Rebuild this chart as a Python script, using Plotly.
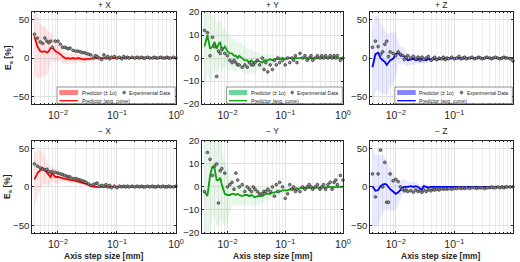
import plotly.graph_objects as go

# ---------------- data ----------------
step_mm = [0.004, 0.0045, 0.005, 0.0055, 0.006, 0.0065, 0.007, 0.0075, 0.008, 0.009,
           0.01, 0.011, 0.012, 0.013, 0.014, 0.015, 0.016, 0.018, 0.02, 0.022,
           0.024, 0.026, 0.028, 0.03, 0.033, 0.036, 0.04, 0.043, 0.046, 0.05,
           0.055, 0.06, 0.065, 0.07, 0.075, 0.08, 0.09, 0.1, 0.11, 0.12,
           0.13, 0.14, 0.15, 0.16, 0.18, 0.2, 0.22, 0.24, 0.26, 0.28,
           0.3, 0.33, 0.36, 0.4, 0.43, 0.46, 0.5, 0.55, 0.6, 0.65,
           0.7, 0.75, 0.8, 0.9, 1.0]

# +X
px_avg = [28, 15, 9, 8, 9, 7, 9, 13, 14, 9,
          7, 5, 2, 0, -1, 0, -1, 0, -1, 0,
          -1, -2, -2, -1, -1, -1, 0, 0, 0.5, 0,
          0.5, 0, 0, 0.5, 0, 0, 0.5, 0, 0, 0,
          0.5, 0, 0, 0, 0, 0.5, 0, 0, 0, 0,
          0, 0, 0, 0, 0, 0, 0, 0, 0, 0,
          0, 0, 0, 0, 0]
px_sig = [50, 42, 35, 33, 32, 30, 25, 20, 18, 14,
          11, 10, 9, 8, 7, 7, 6.5, 6, 6, 5.5,
          5, 5, 4.5, 4, 3.5, 3, 3, 2.5, 2.5, 2,
          2, 2, 1.8, 1.6, 1.5, 1.5, 1.4, 1.3, 1.2, 1.1,
          1, 1, 1, 1, 1, 1, 1, 1, 1, 1,
          1, 1, 1, 1, 1, 1, 1, 1, 1, 1,
          1, 1, 1, 1, 1]
px_exp = [31, 26, 21, 19, 26, 22, 20, 22, 14, 22,
          22, 18, 14, 14, 13, 12, 13, 10, 9, 9,
          8, 7, 7, 6, 5, 4, 0, 3, 2, 0,
          -2, 4, 0, 2, -1, 1, 2, 0, 1, -1,
          2, 0, 1, 0, 1, 0, 1, 0, 1, 0,
          0, 1, 0, 0, 1, 0, 0, 1, 0, 0,
          1, 0, 0, 1, 0]

# +Y
py_avg = [5, 10, 4, 5, 7, 4, 6, 7, 3, 5,
          3, 2, 2, 1, 1, 0, 1, 0, -1, -1,
          -2, -1, -2, -2, -1, -1.5, -2, -1, -1, -1,
          -0.5, -1, -0.5, -0.5, 0, -0.5, 0, -0.5, 0, 0,
          0, 0, 0.3, 0, 0, 0.3, 0, 0.3, 0, 0,
          0.3, 0, 0.3, 0.2, 0, 0.3, 0.2, 0, 0.3, 0.2,
          0.3, 0, 0.3, 0.2, 0]
py_sig = [18, 17, 15, 13, 12, 11, 10, 10, 9, 8.5,
          8, 7.5, 7, 7, 6.5, 6.5, 6, 6, 6, 5.5,
          5.5, 5, 5, 4.5, 4, 3.5, 3.3, 3, 2.8, 2.5,
          2.2, 2, 1.8, 1.6, 1.5, 1.3, 1.2, 1, 1, 0.9,
          0.8, 0.8, 0.8, 0.7, 0.7, 0.7, 0.6, 0.6, 0.6, 0.6,
          0.5, 0.5, 0.5, 0.5, 0.5, 0.5, 0.5, 0.5, 0.5, 0.5,
          0.5, 0.5, 0.5, 0.5, 0.5]
py_exp = [12, 11, 1, 9, 5, -8, 3, 2, 4, 2,
          1, -1, -2, -1, -2, -3, -3, -4, -3, -4,
          -2, -3, -3, -2, -1, -3, 0, -5, -2, -6,
          -3, -5, -1, -3, 0, -2, -1, -3, 0, -2,
          0, -1, 1, -2, 2, 0, 1, -1, 0, 1,
          -1, 0, 1, 0, 1, 0, 1, 0, 1, 0,
          1, 0, 1, -1, 0]

# +Z
pz_avg = [-12, 5, 7, 0, -3, -5, -9, -6, -3, -1,
          5, 7, 3, 4, 2, 0, -3, -2, -1, -3,
          -2, -1, -2, -2, -3, -1, -2, -1, -1, -2,
          -1, -1, -1, -0.5, -1, -0.5, -0.5, -1, -0.5, -0.5,
          0, -0.5, 0, -0.5, 0, 0, 0, 0, 0, 0,
          0, 0, 0, 0, 0, 0, 0, 0, 0, 0,
          0, 0, 0, 0, 0]
pz_sig = [50, 50, 48, 46, 44, 42, 40, 38, 36, 34,
          30, 14, 12, 11, 10, 9, 8, 7.5, 7, 6.5,
          6, 5.5, 5, 5, 4.5, 4, 3.5, 3, 3, 2.5,
          2.5, 2, 2, 2, 1.8, 1.6, 1.5, 1.4, 1.3, 1.2,
          1, 1, 1, 1, 1, 1, 1, 1, 1, 1,
          1, 1, 1, 1, 1, 1, 1, 1, 1, 1,
          1, 1, 1, 1, 1]
pz_exp = [14, 22, 15, 5, 8, 18, 22, 2, 8, 6,
          3, 8, 5, 3, -2, 1, 3, 0, 2, -1,
          1, -3, 1, -2, 0, 2, -3, -1, 1, -2,
          0, -1, 1, -2, 0, -1, 1, -1, 0, 2,
          -1, 0, 1, -1, 0, 1, -1, 0, 1, 0,
          -1, 0, 1, 0, -1, 0, 1, 0, -1, 0,
          1, 0, 0, -1, -4]

# -X
nx_avg = [10, 18, 22, 25, 22, 19, 16, 13, 18, 13,
          13, 12, 11, 11, 10, 10, 9, 9, 8, 7,
          6, 6, 5, 4, 3, 1, 0, 0, 0, 0,
          0.5, 0, 0, 0.5, 0, 0.5, 0, 0.5, 0.5, 0.5,
          0.5, 0.5, 0.5, 0.5, 0.5, 0.5, 0.5, 0.5, 0.5, 0.5,
          0.5, 0.5, 0.5, 0.5, 0.5, 0.5, 0.5, 0.5, 0.5, 0.5,
          0.5, 0.5, 0.5, 0.5, 0.5]
nx_sig = [35, 30, 26, 22, 18, 16, 14, 12, 10, 9,
          8, 6, 5, 4.5, 4, 4, 3.5, 3.5, 3, 3,
          3, 2.5, 2.5, 2, 2, 2, 1.8, 1.5, 1.4, 1.3,
          1.2, 1, 1, 1, 1, 1, 1, 1, 1, 1,
          1, 1, 1, 1, 1, 1, 1, 1, 1, 1,
          1, 1, 1, 1, 1, 1, 1, 1, 1, 1,
          1, 1, 1, 1, 1]
nx_exp = [30, 27, 25, 23, 22, 23, 20, 19, 20, 19,
          18, 17, 16, 15, 14, 13, 13, 11, 11, 10,
          9, 8, 7, 6, 4, 2, 3, 4, 5, 1,
          2, 1, 3, 0, 2, -1, 1, -1, 1, 0,
          1, 0, 1, 0, 1, 0, 1, 0, 1, 0,
          0, 1, 0, 1, 0, 0, 1, 0, 1, 0,
          0, 1, 0, 0, 1]

# -Y
ny_avg = [-2, -4, 5, 9, 8, 3, 3, 4, 1, -3,
          -3.5, -3.5, -3, -3, -3.5, -3, -3.5, -4, -3.5, -3.5,
          -4, -3.5, -4, -4.5, -4, -4, -4, -3.5, -3, -3,
          -3, -2.5, -2.5, -2, -2, -2, -1.5, -1.5, -1.5, -1,
          -1, -1, -1, -1, -0.5, -0.5, -0.5, -0.5, -0.5, -0.3,
          -0.3, -0.3, -0.3, -0.2, -0.2, -0.2, -0.2, -0.1, -0.1, -0.1,
          0, 0, 0, 0, 0]
ny_sig = [25, 25, 24, 22, 21, 20, 20, 18, 16, 14,
          12, 8, 5, 5, 5, 4.5, 4.5, 4.5, 4.5, 4.5,
          4.5, 4.5, 4.5, 4.5, 4, 4, 3.5, 3, 3, 2.5,
          2.5, 2, 2, 1.8, 1.6, 1.5, 1.4, 1.3, 1.2, 1,
          1, 1, 1, 1, 1, 0.9, 0.9, 0.9, 0.9, 0.9,
          0.8, 0.8, 0.8, 0.8, 0.8, 0.8, 0.8, 0.8, 0.8, 0.8,
          0.8, 0.8, 0.8, 0.8, 0.8]
ny_exp = [-2, 15, 12, 5, 9, 10, -7, 7, 8, 6,
          0, 1, 2, -1, 6, 3, 0, 1, -2, 0,
          -1, -2, 0, -1, -2, -3, -3, -2, -2, -1,
          -2, 0, -4, 1, -2, 2, 0, -5, -3, 1,
          -1, 0, -2, -1, -2, 0, -1, 0, 1, 0,
          -1, 0, 1, -1, 0, 1, -1, 1, 2, -1,
          2, 3, 1, 5, 3]

# -Z
nz_avg = [1, -5, -4, 1, 3, 4, 3, 0, -3, -6,
          -9, -7, -4, -1, 0, 0, 0, 1, 0, 1,
          0, -2, -3, 1, 0, -1, 0, 0, 0, -0.5,
          0, -0.5, 0, -0.5, 0, 0, -0.5, 0, 0, 0,
          0, 0, 0, 0, 0, 0, 0, 0, 0, 0,
          0, 0, 0, 0, 0, 0, 0, 0, 0, 0,
          0, 0, 0, 0, 0]
nz_sig = [50, 48, 45, 42, 38, 35, 32, 30, 28, 25,
          20, 15, 12, 10, 9, 8, 7, 6.5, 6, 5.5,
          5, 5, 4.5, 4, 4, 3.5, 3, 3, 2.5, 2.5,
          2, 2, 2, 1.8, 1.6, 1.5, 1.4, 1.3, 1.2, 1.1,
          1, 1, 1, 1, 1, 1, 1, 1, 1, 1,
          1, 1, 1, 1, 1, 1, 1, 1, 1, 1,
          1, 1, 1, 1, 1]
nz_exp = [17, -13, 17, 48, 0, 32, -20, -20, 17, 8,
          10, 7, 0, -3, -5, -4, -6, -5, -7, -4,
          -6, -5, -7, -4, -6, -4, -5, -3, -4, -3,
          -4, -2, -3, -2, -3, -2, -3, -2, -2, -1,
          -2, -1, -2, -1, -2, -1, -1, -2, -1, -1,
          -1, -2, -1, -1, 0, -1, -1, 0, -1, 0,
          -1, 0, 0, 0, 0]

panel_titles = ["+ X", "+ Y", "+ Z", "\u2212 X", "\u2212 Y", "\u2212 Z"]
x_tickvals = [0.01, 0.1, 1]
x_ticktext = ["10<sup>\u22122</sup>", "10<sup>\u22121</sup>", "10<sup>0</sup>"]
y_ticks_big = [-50, 0, 50]
y_ticks_small = [-20, -10, 0, 10, 20]
legend_labels = ["Predictor (\u00b1 1\u03c3)", "Experimental Data", "Predictor (avg. curve)"]

panels = [
    (px_avg, px_sig, px_exp, "#ff0000", "rgba(255,60,60,0.13)", "#ff8080", [-60, 60], y_ticks_big),
    (py_avg, py_sig, py_exp, "#0f9f0f", "rgba(70,190,90,0.12)", "#6fd39c", [-20, 20], y_ticks_small),
    (pz_avg, pz_sig, pz_exp, "#0000ff", "rgba(70,70,255,0.12)", "#8585ff", [-60, 60], y_ticks_big),
    (nx_avg, nx_sig, nx_exp, "#ff0000", "rgba(255,60,60,0.13)", "#ff8080", [-60, 60], y_ticks_big),
    (ny_avg, ny_sig, ny_exp, "#0f9f0f", "rgba(70,190,90,0.12)", "#6fd39c", [-20, 20], y_ticks_small),
    (nz_avg, nz_sig, nz_exp, "#0000ff", "rgba(70,70,255,0.12)", "#8585ff", [-60, 60], y_ticks_big),
]

# ---------------- layout geometry ----------------
W, H = 520, 262
col_dom = [[0.0615, 0.3385], [0.3885, 0.6596], [0.7115, 0.9865]]
row_dom = [[0.603, 0.954], [0.111, 0.462]]
minor_vals = [d * 10.0 ** k for k in (-3, -2, -1) for d in range(2, 10)]

FONT = "Liberation Sans, Arial, sans-serif"
AX = "#262626"
GRID = "#e0e0e0"
MGRID = "#ececec"

fig = go.Figure()
layout = dict(width=W, height=H, margin=dict(l=0, r=0, t=0, b=0),
              paper_bgcolor="white", plot_bgcolor="white", showlegend=False,
              font=dict(family=FONT, size=9, color=AX))
shapes = []
annotations = []

for i, (avg, sig, exp, lc, fc, pc, yr, yt) in enumerate(panels):
    r, c = divmod(i, 3)
    n = i + 1
    xa = "x" if n == 1 else f"x{n}"
    ya = "y" if n == 1 else f"y{n}"
    upper = [a + s for a, s in zip(avg, sig)]
    lower = [a - s for a, s in zip(avg, sig)]
    fig.add_trace(go.Scatter(x=step_mm, y=upper, mode="lines", line=dict(width=0, color=fc),
                             hoverinfo="skip", xaxis=xa, yaxis=ya))
    fig.add_trace(go.Scatter(x=step_mm, y=lower, mode="lines", line=dict(width=0, color=fc),
                             fill="tonexty", fillcolor=fc, hoverinfo="skip", xaxis=xa, yaxis=ya))
    fig.add_trace(go.Scatter(x=step_mm, y=avg, mode="lines", line=dict(width=1.8, color=lc),
                             xaxis=xa, yaxis=ya))
    fig.add_trace(go.Scatter(x=step_mm, y=exp, mode="markers", cliponaxis=False,
                             marker=dict(size=2.8, color="#8c8c8c", line=dict(width=0.6, color="#1e1e1e")),
                             xaxis=xa, yaxis=ya))

    xkey = "xaxis" if n == 1 else f"xaxis{n}"
    ykey = "yaxis" if n == 1 else f"yaxis{n}"
    layout[xkey] = dict(type="log", domain=col_dom[c], anchor=ya, range=[-2.44, 0],
                        tickmode="array", tickvals=x_tickvals, ticktext=x_ticktext,
                        ticks="inside", ticklen=2.5, tickwidth=0.6, tickcolor=AX,
                        showgrid=True, gridcolor=GRID, gridwidth=0.6,
                        minor=dict(tickmode="array", tickvals=minor_vals, ticks="inside",
                                   ticklen=1.5, tickcolor=AX, showgrid=True,
                                   gridcolor=MGRID, gridwidth=0.6),
                        showline=True, linecolor=AX, linewidth=0.7, mirror="ticks",
                        zeroline=False, automargin=False, ticklabelstandoff=2,
                        tickfont=dict(size=10.5, family=FONT, color=AX))
    layout[ykey] = dict(domain=row_dom[r], anchor=xa, range=yr,
                        tickmode="array", tickvals=yt,
                        ticks="inside", ticklen=2.5, tickwidth=0.6, tickcolor=AX,
                        showgrid=True, gridcolor=GRID, gridwidth=0.6,
                        showline=True, linecolor=AX, linewidth=0.7, mirror="ticks",
                        zeroline=False, automargin=False,
                        tickfont=dict(size=9.5, family=FONT, color=AX))

    cx = (col_dom[c][0] + col_dom[c][1]) / 2
    ty = 1 - 4.5 / H if r == 0 else 1 - 131 / H
    annotations.append(dict(text=panel_titles[i], x=cx, y=ty, xref="paper", yref="paper",
                            showarrow=False, xanchor="center", yanchor="middle",
                            font=dict(size=8.5, family=FONT, color=AX)))
    if c == 0:
        ycen = (row_dom[r][0] + row_dom[r][1]) / 2
        annotations.append(dict(text="<b>E<sub>s</sub> [%]</b>", x=8 / W, y=ycen,
                                xref="paper", yref="paper", showarrow=False, textangle=-90,
                                xanchor="center", yanchor="middle",
                                font=dict(size=8.5, family=FONT, color=AX)))
    if r == 1:
        annotations.append(dict(text="<b>Axis step size [mm]</b>", x=cx, y=1 - 256 / H,
                                xref="paper", yref="paper", showarrow=False,
                                xanchor="center", yanchor="middle",
                                font=dict(size=8.5, family=FONT, color=AX)))
    if r == 0:
        dx = f"{xa} domain"
        dy = f"{ya} domain"
        shapes.append(dict(type="rect", xref=dx, yref=dy, x0=0.174, x1=0.995, y0=0.005, y1=0.185,
                           fillcolor="white", line=dict(color=AX, width=0.5), layer="above"))
        shapes.append(dict(type="rect", xref=dx, yref=dy, x0=0.19, x1=0.32, y0=0.098, y1=0.152,
                           fillcolor=pc, line=dict(width=0), layer="above"))
        shapes.append(dict(type="line", xref=dx, yref=dy, x0=0.19, x1=0.32, y0=0.036, y1=0.036,
                           line=dict(color=lc, width=1.3), layer="above"))
        shapes.append(dict(type="circle", xref=dx, yref=dy, x0=0.631, x1=0.649, y0=0.11, y1=0.14,
                           fillcolor="#8c8c8c", line=dict(color="#1e1e1e", width=0.6), layer="above"))
        for txt, lx, ly in [(legend_labels[0], 0.33, 0.125), (legend_labels[1], 0.662, 0.125),
                            (legend_labels[2], 0.33, 0.036)]:
            annotations.append(dict(text=txt, x=lx, y=ly, xref=dx, yref=dy, showarrow=False,
                                    xanchor="left", yanchor="middle",
                                    font=dict(size=5.0, family=FONT, color=AX)))

layout["shapes"] = shapes
layout["annotations"] = annotations
fig.update_layout(**layout)
fig.write_html("out.html")
